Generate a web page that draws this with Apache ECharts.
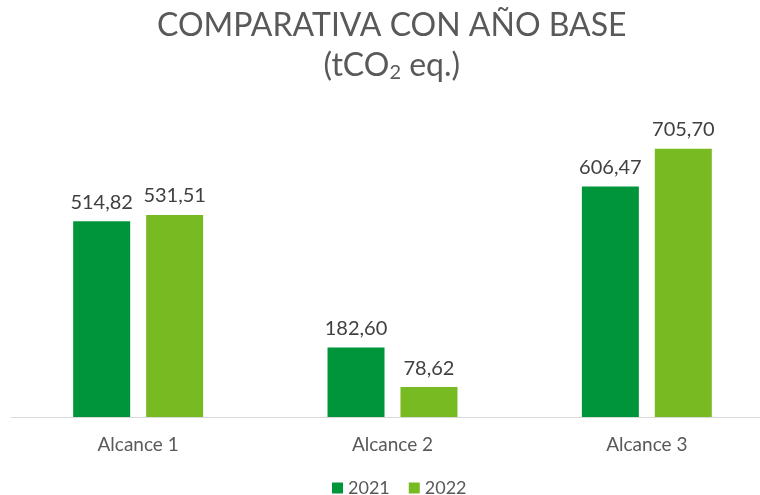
<!DOCTYPE html>
<html>
<head>
<meta charset="utf-8">
<script src="https://cdn.jsdelivr.net/npm/echarts@6/dist/echarts.min.js"></script>
<style>
html, body { margin: 0; padding: 0; background: #fff; overflow: hidden; }
#chart { width: 775px; height: 495px; }
</style>
</head>
<body>
<div id="chart"></div>
<script>
var categories = ['Alcance 1', 'Alcance 2', 'Alcance 3'];
var seriesNames = ['2021', '2022'];
var values2021 = [514.82, 182.60, 606.47];
var values2022 = [531.51, 78.62, 705.70];

function fmt(v) {
	return v.toFixed(2).replace('.', ',');
}

// chart is a bit wider than the window: the last category runs past the right edge
var myChart = echarts.init(document.getElementById('chart'));
myChart.setOption({
	animation: false,
	title: {
		text: '{a|COMPARATIVA CON AÑO BASE}\n{a|(tCO}{s|2}{a| eq.)}',
		left: 157,
		top: 6,
		padding: 0,
		textStyle: {
			rich: {
				a: { fontFamily: 'Lato', fontWeight: 'normal', fontSize: 32, color: '#595959', lineHeight: 40, align: 'center' },
				s: { fontFamily: 'Lato', fontWeight: 'normal', fontSize: 20, color: '#595959', lineHeight: 40, padding: [14, 0, 0, 0] }
			}
		}
	},
	legend: {
		top: 479,
		left: 332,
		padding: 0,
		itemWidth: 11,
		itemHeight: 11,
		itemGap: 19,
		icon: 'rect',
		textStyle: { fontFamily: 'Lato', fontSize: 18, color: '#595959' },
		data: seriesNames
	},
	grid: { left: 11, right: 1, top: 113, bottom: 78 },
	xAxis: {
		type: 'category',
		data: categories,
		axisLine: { lineStyle: { color: '#D9D9D9', width: 1 } },
		axisTick: { show: false },
		axisLabel: { fontFamily: 'Lato', fontSize: 19, color: '#595959', margin: 18 }
	},
	yAxis: {
		type: 'value',
		min: 0,
		max: 800,
		show: false,
		splitLine: { show: false }
	},
	series: [
		{
			name: seriesNames[0],
			type: 'bar',
			data: values2021,
			barWidth: 57,
			barGap: '28%',
			itemStyle: { color: '#00953B' },
			label: {
				show: true, position: 'top', distance: 9,
				fontFamily: 'Lato', fontSize: 20, color: '#404040',
				formatter: function (p) { return fmt(p.value); }
			}
		},
		{
			name: seriesNames[1],
			type: 'bar',
			data: values2022,
			barWidth: 57,
			itemStyle: { color: '#78BA22' },
			label: {
				show: true, position: 'top', distance: 9,
				fontFamily: 'Lato', fontSize: 20, color: '#404040',
				formatter: function (p) { return fmt(p.value); }
			}
		}
	]
});
</script>
</body>
</html>
